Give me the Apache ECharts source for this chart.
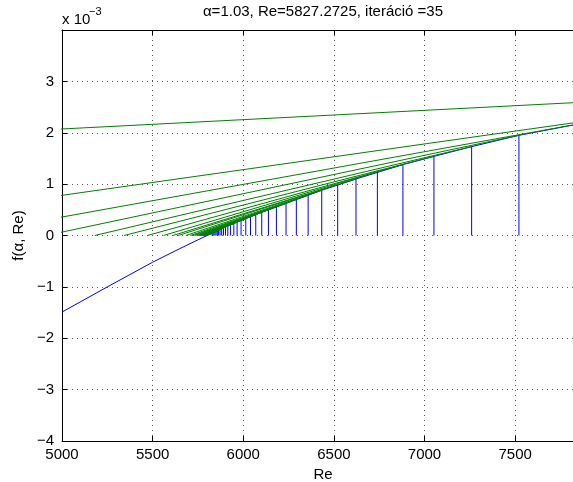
<!DOCTYPE html>
<html><head><meta charset="utf-8">
<script src="https://cdn.jsdelivr.net/npm/echarts@6/dist/echarts.min.js"></script>
<style>html,body{margin:0;padding:0;background:#fff}#c{width:573px;height:482px}</style>
</head><body><div id="c"></div>
<script>
// x tick labels and y tick labels
const xTicks = [5000, 5500, 6000, 6500, 7000, 7500];
const yTicks = [-4, -3, -2, -1, 0, 1, 2, 3];

// blue curve f(alpha, Re), values in units of 1e-3
const curveRe = [5000, 5250, 5500, 5650, 5800, 5900, 6000, 6100, 6236, 6433, 6622, 6881, 7052, 7260, 7521, 7864, 8356];
const curveF  = [-1.49, -1.00, -0.52, -0.255, 0, 0.162, 0.31, 0.45, 0.625, 0.88, 1.10, 1.38, 1.54, 1.73, 1.95, 2.18, 2.46];

// iterates Re_k and f(Re_k) (units of 1e-3)
const iterRe = [10000, 8356, 7864, 7521, 7260, 7052, 6881, 6740, 6622, 6521, 6433, 6358, 6293, 6236, 6183, 6139, 6102, 6069, 6040, 6014, 5988, 5966, 5948, 5930, 5915, 5902, 5891, 5881, 5872, 5864, 5857, 5850, 5844, 5838, 5832.5, 5827.27];
const iterF  = [2.98, 2.46, 2.18, 1.95, 1.73, 1.54, 1.38, 1.24, 1.10, 0.99, 0.88, 0.785, 0.70, 0.625, 0.555, 0.50, 0.45, 0.405, 0.365, 0.33, 0.292, 0.26, 0.233, 0.206, 0.183, 0.163, 0.146, 0.130, 0.116, 0.104, 0.093, 0.082, 0.072, 0.062, 0.053, 0.045];
// where each green tangent line meets f = 0
const tangentZeroRe = [-6440, 3436, 4434, 4911, 5180, 5342, 5471, 5560, 5612, 5641, 5683, 5708, 5723, 5735, 5746, 5753, 5758, 5763, 5767, 5771, 5774, 5777, 5780, 5782, 5784, 5786, 5787.5, 5789, 5790, 5791, 5792, 5793, 5794, 5795, 5795.5, 5796];

const FONT = 'Liberation Sans, Arial, Helvetica, sans-serif';
const chart = echarts.init(document.getElementById('c'), null, {renderer: 'canvas'});

const series = [];
series.push({
  type: 'line', data: curveRe.map((r, i) => [r, curveF[i]]),
  symbol: 'none', lineStyle: {color: '#0000ff', width: 1}, silent: true, z: 2
});
iterRe.forEach((r, i) => {
  series.push({
    type: 'line', data: [[r, 0], [r, iterF[i]]],
    symbol: 'none', lineStyle: {color: '#0000ff', width: 1}, silent: true, z: 3
  });
});
iterRe.forEach((r, i) => {
  series.push({
    type: 'line', data: [[tangentZeroRe[i], 0], [r, iterF[i]]],
    symbol: 'none', lineStyle: {color: '#008000', width: 1}, silent: true, z: 4
  });
});

const grid = {left: 62, top: 30, right: -11, bottom: 41, containLabel: false, outerBoundsMode: 'none'};
const dotted = {show: true, lineStyle: {type: [1, 4], color: '#555', width: 1}};

chart.setOption({
  animation: false,
  backgroundColor: '#fff',
  grid: grid,
  xAxis: [{
    type: 'value', min: 5000, max: 7880, interval: 500, position: 'bottom',
    axisLine: {show: true, onZero: false, lineStyle: {color: '#000', width: 1}},
    axisTick: {show: true, inside: true, length: 5, lineStyle: {color: '#000'}},
    axisLabel: {
      color: '#000', fontSize: 15, fontFamily: FONT, margin: 6, showMaxLabel: false,
      formatter: v => xTicks.includes(v) ? String(v) : ''
    },
    splitLine: dotted,
    name: 'Re', nameLocation: 'middle', nameGap: 26,
    nameTextStyle: {color: '#000', fontSize: 15, fontFamily: FONT}
  }, {
    type: 'value', min: 5000, max: 7880, interval: 500, position: 'top',
    axisLine: {show: true, onZero: false, lineStyle: {color: '#000', width: 1}},
    axisTick: {show: true, inside: true, length: 5, lineStyle: {color: '#000'}},
    axisLabel: {show: false}, splitLine: {show: false}
  }],
  yAxis: [{
    type: 'value', min: -4, max: 4, interval: 1,
    axisLine: {show: true, onZero: false, lineStyle: {color: '#000', width: 1}},
    axisTick: {show: true, inside: true, length: 5, lineStyle: {color: '#000'}},
    axisLabel: {
      color: '#000', fontSize: 15, fontFamily: FONT, margin: 8,
      formatter: v => yTicks.includes(v) ? (v < 0 ? '\u2212' + (-v) : String(v)) : ''
    },
    splitLine: dotted,
    name: 'f(\u03b1, Re)', nameLocation: 'middle', nameGap: 28,
    nameTextStyle: {color: '#000', fontSize: 15, fontFamily: FONT}
  }],
  graphic: [
    {type: 'text', x: 323, y: 12, silent: true,
     style: {text: '\u03b1=1.03, Re=5827.2725, iteráció =35', fill: '#000', font: '15px ' + FONT, textAlign: 'center', textVerticalAlign: 'middle'}},
    {type: 'text', x: 62, y: 20, silent: true,
     style: {text: 'x 10', fill: '#000', font: '15px ' + FONT, textAlign: 'left', textVerticalAlign: 'middle'}},
    {type: 'text', x: 89, y: 12, silent: true,
     style: {text: '\u22123', fill: '#000', font: '11px ' + FONT, textAlign: 'left', textVerticalAlign: 'middle'}}
  ],
  series: series
});
</script></body></html>
